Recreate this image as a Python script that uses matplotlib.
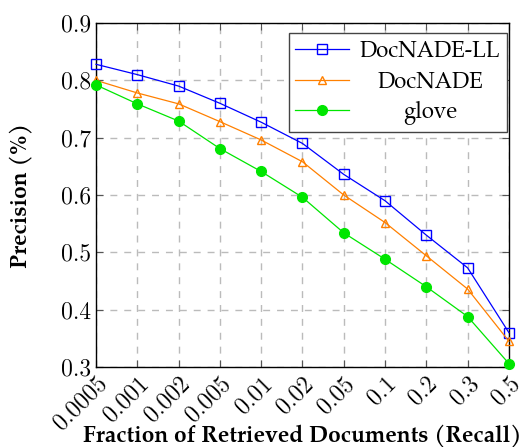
import numpy as np
import matplotlib
matplotlib.use('Agg')
from matplotlib import pyplot as plt
from matplotlib.transforms import Affine2D

plt.rcParams['font.family'] = ['TeX Gyre Pagella', 'DejaVu Serif']

fractions = ['0.0005', '0.001', '0.002', '0.005', '0.01', '0.02',
             '0.05', '0.1', '0.2', '0.3', '0.5']
docnade_ll = [0.828, 0.810, 0.790, 0.760, 0.727, 0.690, 0.636, 0.590, 0.530, 0.473, 0.360]
docnade = [0.800, 0.778, 0.759, 0.728, 0.696, 0.658, 0.600, 0.552, 0.494, 0.436, 0.345]
glove = [0.792, 0.759, 0.729, 0.681, 0.641, 0.596, 0.534, 0.488, 0.440, 0.388, 0.306]
yticks = [0.3, 0.4, 0.5, 0.6, 0.7, 0.8, 0.9]

x = np.arange(len(fractions))
tickfont = {'family': ['Latin Modern Roman', 'DejaVu Serif'], 'size': 17}

fig = plt.figure(figsize=(5.23, 4.47), dpi=100)
ax = fig.add_axes([0.1836, 0.179, 0.7894, 0.7695])

ax.plot(x, docnade_ll, color='#0000ff', lw=0.9, marker='s', ms=6.5,
        mfc='none', mec='#0000ff', mew=1, label='DocNADE-LL', clip_on=False, zorder=3)
ax.plot(x, docnade, color='#ff8000', lw=0.9, marker='^', ms=6,
        mfc='none', mec='#ff8000', mew=1, label='DocNADE', clip_on=False, zorder=3)
ax.plot(x, glove, color='#00e600', lw=0.9, marker='o', ms=7,
        mfc='#00e600', mec='#00e600', label='glove', clip_on=False, zorder=3)

ax.set_xlim(0, len(fractions) - 1)
ax.set_ylim(0.3, 0.9)
ax.set_xticks(x)
ax.set_xticklabels(fractions, rotation=45, ha='right', rotation_mode='anchor', fontdict=tickfont)
ax.set_yticks(yticks)
ax.set_yticklabels(['%.1f' % v for v in yticks], fontdict=tickfont)
ax.tick_params(direction='in', top=True, right=True, length=5, width=0.8, colors='#555555',
               labelcolor='black')
ax.tick_params(axis='x', pad=4)
ax.grid(True, linestyle=(0, (5, 5)), color='#bbbbbb', lw=1)
for s in ax.spines.values():
    s.set_linewidth(1)

ax.set_ylabel('Precision (%)', fontsize=16.5, fontweight='bold')
ax.yaxis.label.set_va('center')
ax.yaxis.set_label_coords(-0.18, 0.5)
ax.set_xlabel('Fraction of Retrieved Documents (Recall)', fontsize=16.5, fontweight='bold')
ax.xaxis.label.set_va('baseline')
ax.xaxis.set_label_coords(0.5, -0.218)

leg = ax.legend(loc='upper right', bbox_to_anchor=(0.995, 0.971), borderaxespad=0,
                fontsize=16, fancybox=False, edgecolor='#444444', framealpha=1,
                handlelength=2.4, borderpad=0.3, labelspacing=0.3, handletextpad=0.5)
leg.get_frame().set_linewidth(1)

# centre legend entries like pgfplots does
fig.canvas.draw()
r = fig.canvas.get_renderer()
texts = leg.get_texts()
widths = [t.get_window_extent(r).width for t in texts]
wmax = max(widths)
for t, w in zip(texts, widths):
    t.set_transform(t.get_transform() + Affine2D().translate((wmax - w) / 2, 0))

plt.savefig('out.png', dpi=100)
